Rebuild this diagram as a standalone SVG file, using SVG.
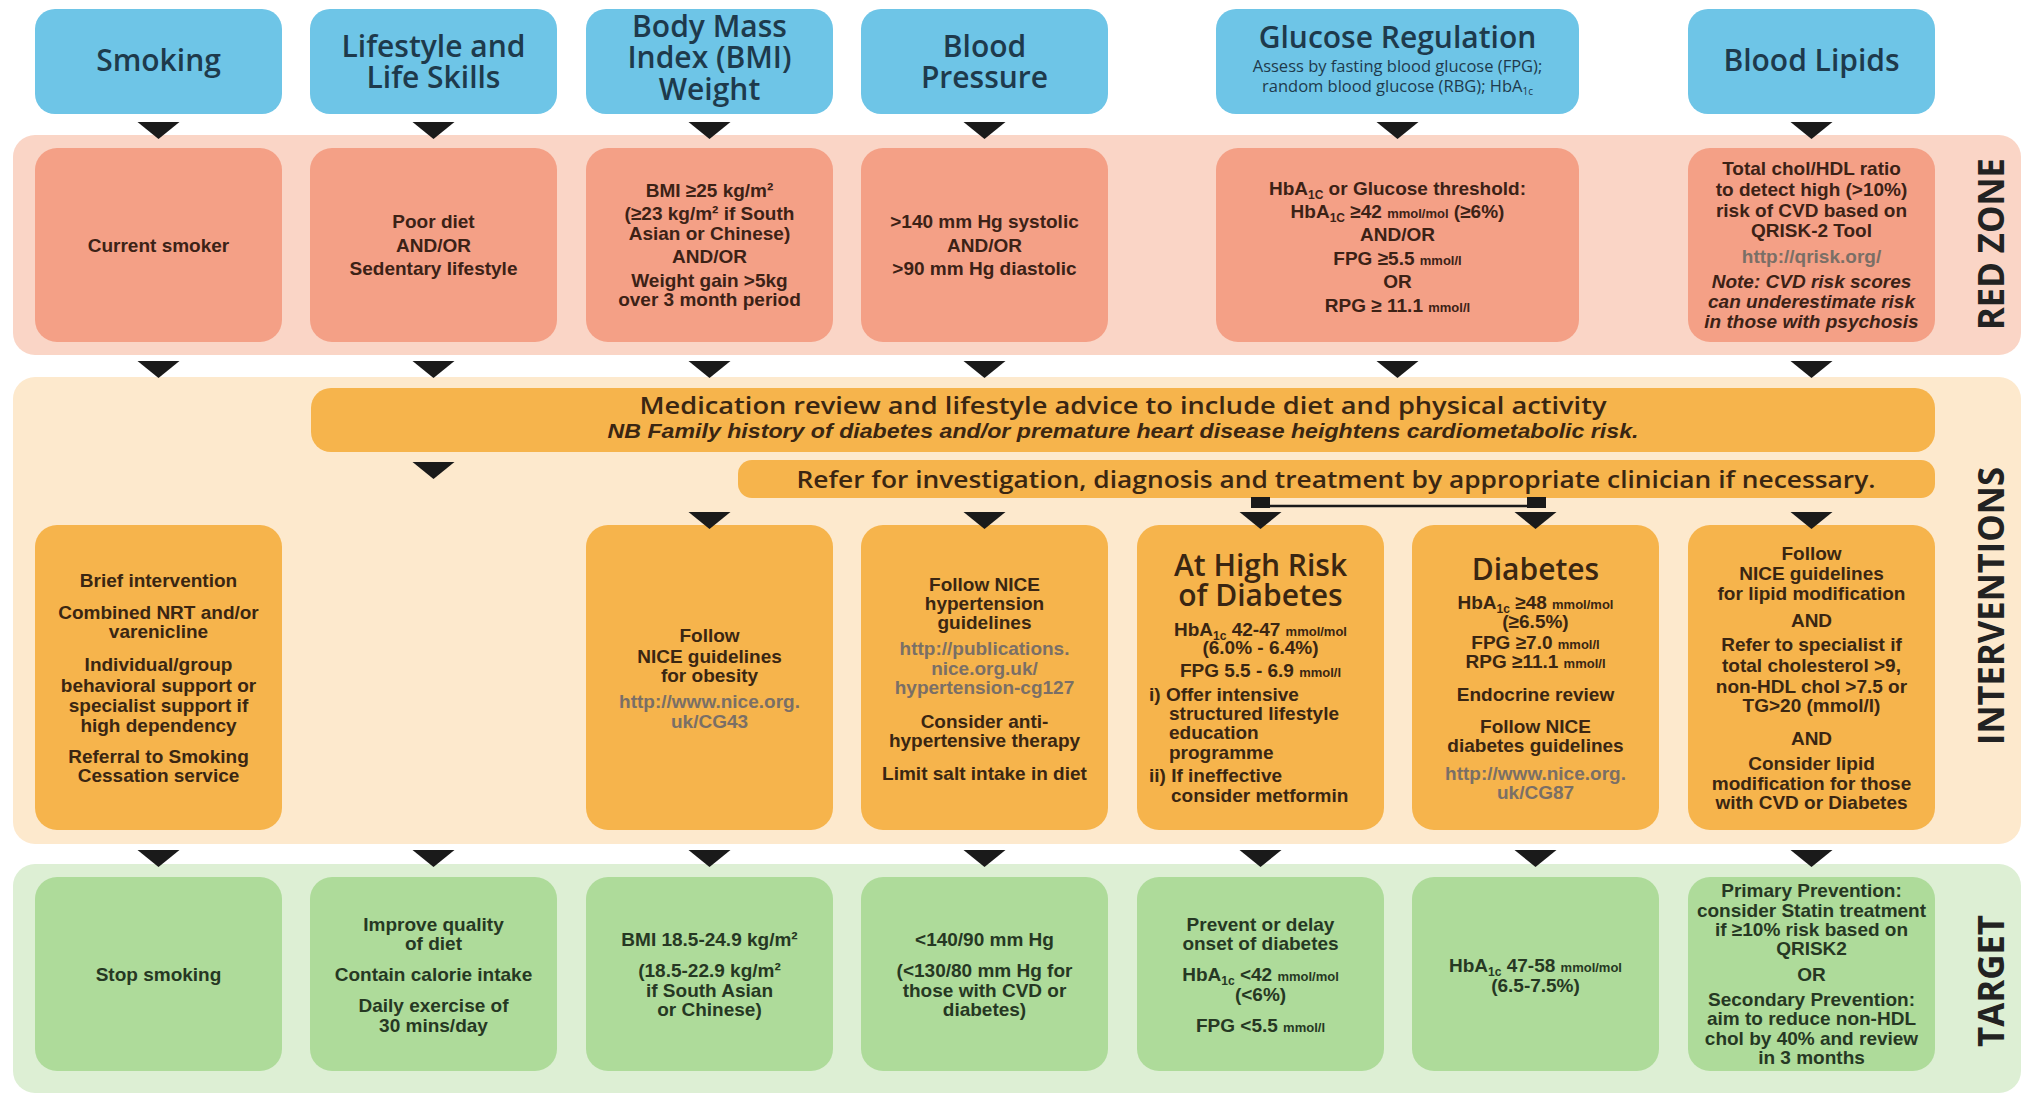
<svg xmlns="http://www.w3.org/2000/svg" xmlns:xlink="http://www.w3.org/1999/xlink" width="2029" height="1097" viewBox="0 0 2029 1097">
<defs>
<style>
.hdr{fill:#6EC5E7}
.band-r{fill:#FAD5C6}
.band-i{fill:#FDE9CD}
.band-t{fill:#DDEFD4}
.bx-r{fill:#F4A086}
.bx-i{fill:#F6B44C}
.bx-t{fill:#AEDB9A}
.hd{font-family:"Open Sans","Liberation Sans",sans-serif;font-weight:600;font-size:30px;fill:#1E3A4C;text-anchor:middle}
.hs{font-family:"Open Sans","Liberation Sans",sans-serif;font-weight:400;font-size:16.5px;fill:#1E3A4C;text-anchor:middle}
.t{font-family:"Liberation Sans",Arial,sans-serif;font-weight:bold;font-size:19px;text-anchor:middle}
.tl{font-family:"Liberation Sans",Arial,sans-serif;font-weight:bold;font-size:19px;text-anchor:start}
.r{fill:#3C2216}
.o{fill:#3A2612}
.g{fill:#263823}
.url{fill:#7A6F66}
.it{font-style:italic}
.sm{font-size:13px}
.sub{font-size:12px}
.big{font-family:"Open Sans","Liberation Sans",sans-serif;font-weight:600;font-size:30px;fill:#3A2612;text-anchor:middle}
.bar{font-family:"Open Sans","Liberation Sans",sans-serif;font-weight:600;font-size:24px;fill:#3A2612;text-anchor:middle}
.bari{font-family:"Liberation Sans",Arial,sans-serif;font-weight:bold;font-style:italic;font-size:20px;fill:#3A2612;text-anchor:middle}
.zone{font-family:"Open Sans","Liberation Sans",sans-serif;font-weight:700;font-size:36px;fill:#222222;text-anchor:middle;dominant-baseline:central}
.tri{fill:#1A1A1A}
</style>
<path id="tri" class="tri" d="M-21,0 L21,0 L0,17 Z"/>
</defs>

<!-- bands -->
<g id="bands">
<rect class="band-r" x="13" y="135" width="2008" height="220" rx="22"/>
<rect class="band-i" x="13" y="377" width="2008" height="467" rx="22"/>
<rect class="band-t" x="13" y="864" width="2008" height="229" rx="22"/>
<text class="zone" x="1990" y="244" transform="rotate(-90 1990 244)" textLength="172" lengthAdjust="spacingAndGlyphs">RED ZONE</text>
<text class="zone" x="1990" y="606" transform="rotate(-90 1990 606)" textLength="278" lengthAdjust="spacingAndGlyphs">INTERVENTIONS</text>
<text class="zone" x="1990" y="981" transform="rotate(-90 1990 981)" textLength="132" lengthAdjust="spacingAndGlyphs">TARGET</text>
</g>

<!-- headers -->
<g id="hdr-smoking"><rect class="hdr" x="35" y="9" width="247" height="105" rx="20"/><text class="hd" x="158.5" y="71">Smoking</text></g>
<g id="hdr-lifestyle"><rect class="hdr" x="310" y="9" width="247" height="105" rx="20"/><text class="hd" x="433.5" y="57">Lifestyle and</text><text class="hd" x="433.5" y="88">Life Skills</text></g>
<g id="hdr-bmi"><rect class="hdr" x="586" y="9" width="247" height="105" rx="20"/><text class="hd" x="709.5" y="37">Body Mass</text><text class="hd" x="709.5" y="68">Index (BMI)</text><text class="hd" x="709.5" y="100">Weight</text></g>
<g id="hdr-bp"><rect class="hdr" x="861" y="9" width="247" height="105" rx="20"/><text class="hd" x="984.5" y="57">Blood</text><text class="hd" x="984.5" y="88">Pressure</text></g>
<g id="hdr-glucose"><rect class="hdr" x="1216" y="9" width="363" height="105" rx="20"/><text class="hd" x="1397.5" y="48">Glucose Regulation</text><text class="hs" x="1397.5" y="72">Assess by fasting blood glucose (FPG);</text><text class="hs" x="1397.5" y="92">random blood glucose (RBG); HbA<tspan font-size="10" dy="3">1c</tspan></text></g>
<g id="hdr-lipids"><rect class="hdr" x="1688" y="9" width="247" height="105" rx="20"/><text class="hd" x="1811.5" y="71">Blood Lipids</text></g>

<!-- red zone -->
<g id="red-smoking"><rect class="bx-r" x="35" y="148" width="247" height="194" rx="22"/><text class="t r" x="158.5" y="252">Current smoker</text></g>
<g id="red-lifestyle"><rect class="bx-r" x="310" y="148" width="247" height="194" rx="22"/>
<text class="t r" x="433.5" y="228">Poor diet</text><text class="t r" x="433.5" y="252">AND/OR</text><text class="t r" x="433.5" y="275">Sedentary lifestyle</text></g>
<g id="red-bmi"><rect class="bx-r" x="586" y="148" width="247" height="194" rx="22"/>
<text class="t r" x="709.5" y="197">BMI ≥25 kg/m²</text>
<text class="t r" x="709.5" y="220">(≥23 kg/m² if South</text>
<text class="t r" x="709.5" y="240">Asian or Chinese)</text>
<text class="t r" x="709.5" y="263">AND/OR</text>
<text class="t r" x="709.5" y="287">Weight gain &gt;5kg</text>
<text class="t r" x="709.5" y="306">over 3 month period</text></g>
<g id="red-bp"><rect class="bx-r" x="861" y="148" width="247" height="194" rx="22"/>
<text class="t r" x="984.5" y="228">&gt;140 mm Hg systolic</text><text class="t r" x="984.5" y="252">AND/OR</text><text class="t r" x="984.5" y="275">&gt;90 mm Hg diastolic</text></g>
<g id="red-glucose"><rect class="bx-r" x="1216" y="148" width="363" height="194" rx="22"/>
<text class="t r" x="1397.5" y="195">HbA<tspan class="sub" dy="4">1C</tspan><tspan dy="-4"> or Glucose threshold:</tspan></text>
<text class="t r" x="1397.5" y="218">HbA<tspan class="sub" dy="4">1C</tspan><tspan dy="-4"> ≥42 </tspan><tspan class="sm">mmol/mol</tspan> (≥6%)</text>
<text class="t r" x="1397.5" y="241">AND/OR</text>
<text class="t r" x="1397.5" y="265">FPG ≥5.5 <tspan class="sm">mmol/l</tspan></text>
<text class="t r" x="1397.5" y="288">OR</text>
<text class="t r" x="1397.5" y="312">RPG ≥ 11.1 <tspan class="sm">mmol/l</tspan></text></g>
<g id="red-lipids"><rect class="bx-r" x="1688" y="148" width="247" height="194" rx="22"/>
<text class="t r" x="1811.5" y="175">Total chol/HDL ratio</text>
<text class="t r" x="1811.5" y="196">to detect high (&gt;10%)</text>
<text class="t r" x="1811.5" y="217">risk of CVD based on</text>
<text class="t r" x="1811.5" y="237">QRISK-2 Tool</text>
<text class="t url" x="1811.5" y="263">http://qrisk.org/</text>
<text class="t r it" x="1811.5" y="288">Note: CVD risk scores</text>
<text class="t r it" x="1811.5" y="308">can underestimate risk</text>
<text class="t r it" x="1811.5" y="328">in those with psychosis</text></g>

<!-- interventions -->
<g id="int-medreview"><rect class="bx-i" x="311" y="388" width="1624" height="64" rx="20"/>
<text class="bar" x="1123" y="414" textLength="967" lengthAdjust="spacingAndGlyphs">Medication review and lifestyle advice to include diet and physical activity</text>
<text class="bari" x="1123" y="438" textLength="1031" lengthAdjust="spacingAndGlyphs">NB Family history of diabetes and/or premature heart disease heightens cardiometabolic risk.</text></g>
<g id="int-refer"><rect class="bx-i" x="738" y="460" width="1197" height="38" rx="14"/>
<text class="bar" x="1336" y="488" textLength="1079" lengthAdjust="spacingAndGlyphs">Refer for investigation, diagnosis and treatment by appropriate clinician if necessary.</text></g>

<g id="int-smoking"><rect class="bx-i" x="35" y="525" width="247" height="305" rx="22"/>
<text class="t o" x="158.5" y="587">Brief intervention</text>
<text class="t o" x="158.5" y="619">Combined NRT and/or</text>
<text class="t o" x="158.5" y="638">varenicline</text>
<text class="t o" x="158.5" y="671">Individual/group</text>
<text class="t o" x="158.5" y="692">behavioral support or</text>
<text class="t o" x="158.5" y="712">specialist support if</text>
<text class="t o" x="158.5" y="732">high dependency</text>
<text class="t o" x="158.5" y="763">Referral to Smoking</text>
<text class="t o" x="158.5" y="782">Cessation service</text></g>
<g id="int-bmi"><rect class="bx-i" x="586" y="525" width="247" height="305" rx="22"/>
<text class="t o" x="709.5" y="642">Follow</text>
<text class="t o" x="709.5" y="663">NICE guidelines</text>
<text class="t o" x="709.5" y="682">for obesity</text>
<text class="t url" x="709.5" y="708">http://www.nice.org.</text>
<text class="t url" x="709.5" y="728">uk/CG43</text></g>
<g id="int-bp"><rect class="bx-i" x="861" y="525" width="247" height="305" rx="22"/>
<text class="t o" x="984.5" y="591">Follow NICE</text>
<text class="t o" x="984.5" y="610">hypertension</text>
<text class="t o" x="984.5" y="629">guidelines</text>
<text class="t url" x="984.5" y="655">http://publications.</text>
<text class="t url" x="984.5" y="675">nice.org.uk/</text>
<text class="t url" x="984.5" y="694">hypertension-cg127</text>
<text class="t o" x="984.5" y="728">Consider anti-</text>
<text class="t o" x="984.5" y="747">hypertensive therapy</text>
<text class="t o" x="984.5" y="780">Limit salt intake in diet</text></g>
<g id="int-highrisk"><rect class="bx-i" x="1137" y="525" width="247" height="305" rx="22"/>
<text class="big" x="1260.5" y="576">At High Risk</text>
<text class="big" x="1260.5" y="606">of Diabetes</text>
<text class="t o" x="1260.5" y="636">HbA<tspan class="sub" dy="4">1c</tspan><tspan dy="-4"> 42-47 </tspan><tspan class="sm">mmol/mol</tspan></text>
<text class="t o" x="1260.5" y="654">(6.0% - 6.4%)</text>
<text class="t o" x="1260.5" y="677">FPG 5.5 - 6.9 <tspan class="sm">mmol/l</tspan></text>
<text class="tl o" x="1149" y="701">i) Offer intensive</text>
<text class="tl o" x="1169" y="720">structured lifestyle</text>
<text class="tl o" x="1169" y="739">education</text>
<text class="tl o" x="1169" y="759">programme</text>
<text class="tl o" x="1149" y="782">ii) If ineffective</text>
<text class="tl o" x="1171" y="802">consider metformin</text></g>
<g id="int-diabetes"><rect class="bx-i" x="1412" y="525" width="247" height="305" rx="22"/>
<text class="big" x="1535.5" y="580">Diabetes</text>
<text class="t o" x="1535.5" y="609">HbA<tspan class="sub" dy="4">1c</tspan><tspan dy="-4"> ≥48 </tspan><tspan class="sm">mmol/mol</tspan></text>
<text class="t o" x="1535.5" y="628">(≥6.5%)</text>
<text class="t o" x="1535.5" y="649">FPG ≥7.0 <tspan class="sm">mmol/l</tspan></text>
<text class="t o" x="1535.5" y="668">RPG ≥11.1 <tspan class="sm">mmol/l</tspan></text>
<text class="t o" x="1535.5" y="701">Endocrine review</text>
<text class="t o" x="1535.5" y="733">Follow NICE</text>
<text class="t o" x="1535.5" y="752">diabetes guidelines</text>
<text class="t url" x="1535.5" y="780">http://www.nice.org.</text>
<text class="t url" x="1535.5" y="799">uk/CG87</text></g>
<g id="int-lipids"><rect class="bx-i" x="1688" y="525" width="247" height="305" rx="22"/>
<text class="t o" x="1811.5" y="560">Follow</text>
<text class="t o" x="1811.5" y="580">NICE guidelines</text>
<text class="t o" x="1811.5" y="600">for lipid modification</text>
<text class="t o" x="1811.5" y="627">AND</text>
<text class="t o" x="1811.5" y="651">Refer to specialist if</text>
<text class="t o" x="1811.5" y="672">total cholesterol &gt;9,</text>
<text class="t o" x="1811.5" y="693">non-HDL chol &gt;7.5 or</text>
<text class="t o" x="1811.5" y="712">TG&gt;20 (mmol/l)</text>
<text class="t o" x="1811.5" y="745">AND</text>
<text class="t o" x="1811.5" y="770">Consider lipid</text>
<text class="t o" x="1811.5" y="790">modification for those</text>
<text class="t o" x="1811.5" y="809">with CVD or Diabetes</text></g>

<!-- targets -->
<g id="tgt-smoking"><rect class="bx-t" x="35" y="877" width="247" height="194" rx="22"/><text class="t g" x="158.5" y="981">Stop smoking</text></g>
<g id="tgt-lifestyle"><rect class="bx-t" x="310" y="877" width="247" height="194" rx="22"/>
<text class="t g" x="433.5" y="931">Improve quality</text>
<text class="t g" x="433.5" y="950">of diet</text>
<text class="t g" x="433.5" y="981">Contain calorie intake</text>
<text class="t g" x="433.5" y="1012">Daily exercise of</text>
<text class="t g" x="433.5" y="1032">30 mins/day</text></g>
<g id="tgt-bmi"><rect class="bx-t" x="586" y="877" width="247" height="194" rx="22"/>
<text class="t g" x="709.5" y="946">BMI 18.5-24.9 kg/m²</text>
<text class="t g" x="709.5" y="977">(18.5-22.9 kg/m²</text>
<text class="t g" x="709.5" y="997">if South Asian</text>
<text class="t g" x="709.5" y="1016">or Chinese)</text></g>
<g id="tgt-bp"><rect class="bx-t" x="861" y="877" width="247" height="194" rx="22"/>
<text class="t g" x="984.5" y="946">&lt;140/90 mm Hg</text>
<text class="t g" x="984.5" y="977">(&lt;130/80 mm Hg for</text>
<text class="t g" x="984.5" y="997">those with CVD or</text>
<text class="t g" x="984.5" y="1016">diabetes)</text></g>
<g id="tgt-highrisk"><rect class="bx-t" x="1137" y="877" width="247" height="194" rx="22"/>
<text class="t g" x="1260.5" y="931">Prevent or delay</text>
<text class="t g" x="1260.5" y="950">onset of diabetes</text>
<text class="t g" x="1260.5" y="981">HbA<tspan class="sub" dy="4">1c</tspan><tspan dy="-4"> &lt;42 </tspan><tspan class="sm">mmol/mol</tspan></text>
<text class="t g" x="1260.5" y="1001">(&lt;6%)</text>
<text class="t g" x="1260.5" y="1032">FPG &lt;5.5 <tspan class="sm">mmol/l</tspan></text></g>
<g id="tgt-diabetes"><rect class="bx-t" x="1412" y="877" width="247" height="194" rx="22"/>
<text class="t g" x="1535.5" y="972">HbA<tspan class="sub" dy="4">1c</tspan><tspan dy="-4"> 47-58 </tspan><tspan class="sm">mmol/mol</tspan></text>
<text class="t g" x="1535.5" y="992">(6.5-7.5%)</text></g>
<g id="tgt-lipids"><rect class="bx-t" x="1688" y="877" width="247" height="194" rx="22"/>
<text class="t g" x="1811.5" y="897">Primary Prevention:</text>
<text class="t g" x="1811.5" y="917">consider Statin treatment</text>
<text class="t g" x="1811.5" y="936">if ≥10% risk based on</text>
<text class="t g" x="1811.5" y="955">QRISK2</text>
<text class="t g" x="1811.5" y="981">OR</text>
<text class="t g" x="1811.5" y="1006">Secondary Prevention:</text>
<text class="t g" x="1811.5" y="1025">aim to reduce non-HDL</text>
<text class="t g" x="1811.5" y="1045">chol by 40% and review</text>
<text class="t g" x="1811.5" y="1064">in 3 months</text></g>

<!-- connectors -->
<g id="connectors">
<use xlink:href="#tri" x="158.5" y="122"/><use xlink:href="#tri" x="433.5" y="122"/><use xlink:href="#tri" x="709.5" y="122"/><use xlink:href="#tri" x="984.5" y="122"/><use xlink:href="#tri" x="1397.5" y="122"/><use xlink:href="#tri" x="1811.5" y="122"/>
<use xlink:href="#tri" x="158.5" y="361"/><use xlink:href="#tri" x="433.5" y="361"/><use xlink:href="#tri" x="709.5" y="361"/><use xlink:href="#tri" x="984.5" y="361"/><use xlink:href="#tri" x="1397.5" y="361"/><use xlink:href="#tri" x="1811.5" y="361"/>
<use xlink:href="#tri" x="433.5" y="462"/>
<rect class="tri" x="1251" y="497" width="19" height="11"/>
<rect class="tri" x="1527" y="497" width="19" height="11"/>
<line x1="1260" y1="506" x2="1536" y2="506" stroke="#1A1A1A" stroke-width="2.5"/>
<use xlink:href="#tri" x="709.5" y="512"/><use xlink:href="#tri" x="984.5" y="512"/><use xlink:href="#tri" x="1260.5" y="512"/><use xlink:href="#tri" x="1535.5" y="512"/><use xlink:href="#tri" x="1811.5" y="512"/>
<use xlink:href="#tri" x="158.5" y="850"/><use xlink:href="#tri" x="433.5" y="850"/><use xlink:href="#tri" x="709.5" y="850"/><use xlink:href="#tri" x="984.5" y="850"/><use xlink:href="#tri" x="1260.5" y="850"/><use xlink:href="#tri" x="1535.5" y="850"/><use xlink:href="#tri" x="1811.5" y="850"/>
</g>
</svg>
